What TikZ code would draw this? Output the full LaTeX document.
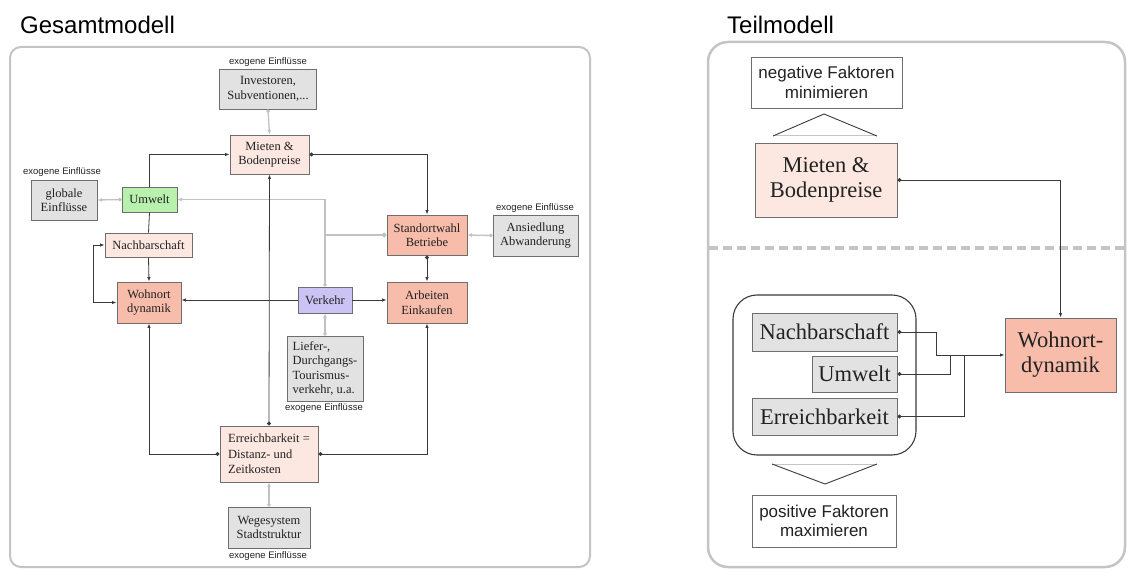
\documentclass[tikz,border=0pt]{standalone}
\usepackage{fontspec}
\setmainfont{Liberation Serif}
\newfontfamily\arialf{Liberation Sans}
\usetikzlibrary{arrows.meta}
\definecolor{framegray}{HTML}{C4C4C4}
\definecolor{boxline}{HTML}{6E6E6E}
\definecolor{lineblk}{HTML}{3A3A3A}
\definecolor{conngray}{HTML}{C2C2C2}
\definecolor{lightpink}{HTML}{FDE8E1}
\definecolor{salmon}{HTML}{F8BCAB}
\definecolor{greenbox}{HTML}{B8F0AD}
\definecolor{purplebox}{HTML}{CBC3F3}
\definecolor{exogray}{HTML}{E2E2E2}
\definecolor{txt}{HTML}{222222}
\tikzset{
  box/.style={draw=boxline, line width=0.9pt, inner sep=0pt, align=center, text=txt,
    font=\fontsize{12.5}{14.5}\selectfont},
  lp/.style={box, fill=lightpink},
  sal/.style={box, fill=salmon},
  exo/.style={box, fill=exogray},
  exolbl/.style={font=\arialf\fontsize{9.5}{11}\selectfont, inner sep=0pt, text=txt},
  blk/.style={draw=lineblk, line width=0.8pt},
  arr/.style={-{Latex[length=4.5pt,width=3.5pt]}},
  darr/.style={{Circle[length=4pt]}-{Latex[length=4.5pt,width=3.5pt]}},
  dotstart/.style={{Circle[length=4pt]}-},
  gry/.style={draw=conngray, line width=1.3pt},
  garr/.style={{Circle[length=3.5pt]}-{Latex[length=4.5pt,width=4pt]}},
  bigbox/.style={draw=boxline, line width=0.9pt, inner sep=0pt, align=center, text=txt,
    font=\fontsize{22.5}{25}\selectfont},
  sansbox/.style={draw=boxline, line width=0.9pt, fill=white, inner sep=0pt, align=center, text=txt,
    font=\arialf\fontsize{17}{19.5}\selectfont},
  title/.style={font=\arialf\fontsize{24}{27}\selectfont, inner sep=0pt, anchor=base west, text=black}
}
\begin{document}
\begin{tikzpicture}[x=1pt,y=-1pt]
\useasboundingbox (0,0) rectangle (1128,569);
% titles
\node[title] (t1) at (20,34) {Gesamtmodell};
\node[title] (t2) at (727,34) {Teilmodell};
% frames
\draw[framegray, line width=2pt, rounded corners=11pt] (10,47) rectangle (590,567);
\draw[framegray, line width=2.5pt, rounded corners=20pt] (708,42) rectangle (1125,567);

% ---------- Gesamtmodell ----------
\node[exolbl] (e1) at (268,62) {exogene Einflüsse};
\node[exo, minimum width=97pt, minimum height=40pt] (inv) at (268,89) {Investoren,\\Subventionen,...};
\node[lp, minimum width=79pt, minimum height=39pt] (mieten) at (269.5,154.5) {Mieten \&\\Bodenpreise};
\node[exolbl] (e2) at (62,172) {exogene Einflüsse};
\node[exo, minimum width=66pt, minimum height=40pt] (glob) at (64,200) {globale\\Einflüsse};
\node[box, fill=greenbox, minimum width=55pt, minimum height=25pt] (umwelt) at (149.5,199.5) {Umwelt};
\node[sal, minimum width=80pt, minimum height=40pt] (std) at (427,235) {Standortwahl\\Betriebe};
\node[exolbl] (e3) at (535,208) {exogene Einflüsse};
\node[exo, minimum width=85pt, minimum height=41pt] (ans) at (535.5,235.5) {Ansiedlung\\Abwanderung};
\node[lp, minimum width=87pt, minimum height=24pt] (nachb) at (148.5,245) {Nachbarschaft};
\node[sal, minimum width=64pt, minimum height=41pt] (wohn) at (149,302.5) {Wohnort\\dynamik};
\node[box, fill=purplebox, minimum width=54pt, minimum height=26pt] (verk) at (325,300) {Verkehr};
\node[sal, minimum width=80pt, minimum height=41pt] (arb) at (427,302.5) {Arbeiten\\Einkaufen};
\node[exo, minimum width=76pt, minimum height=65pt, align=left] (lief) at (325,368.5) {Liefer-,\\Durchgangs-\\Tourismus-\\verkehr, u.a.};
\node[exolbl] (e4) at (324,408) {exogene Einflüsse};
\node[lp, minimum width=98pt, minimum height=56pt, align=left,
  font=\fontsize{12.5}{15.5}\selectfont] (err) at (269,454) {Erreichbarkeit =\\Distanz- und\\Zeitkosten};
\node[exo, minimum width=82pt, minimum height=41pt] (weg) at (269,527.5) {Wegesystem\\Stadtstruktur};
\node[exolbl] (e5) at (268,556) {exogene Einflüsse};

% gray (exogenous) connectors
\draw[gry, garr] (inv.south) -- (mieten.north);
\draw[gry, garr] (umwelt.west) -- (glob.east);
\coordinate (br) at (verk.north |- std.west);
\draw[gry, garr] (verk.north) |- (umwelt.east);
\draw[gry, -{Circle[length=5pt]}] (br) -- (std.west);
\draw[gry, garr] (ans.west) -- (std.east);
\draw[gry, garr] (lief.north) -- (verk.south);
\draw[gry, garr] (weg.north) -- (err.south);

% black connectors
\draw[blk, arr] (umwelt.north) |- (mieten.west);
\draw[blk, darr] (mieten.east) -| (std.north);
\draw[blk, darr] (err.north) -- (mieten.south);
\draw[blk, darr] (std.south) -- (arb.north);
\draw[blk] (umwelt.south) -- (nachb.north);
\draw[blk, arr] (nachb.south) -- (wohn.north);
\draw[blk, {Latex[length=4.5pt,width=3.5pt]}-{Latex[length=4.5pt,width=3.5pt]}] (nachb.west) -| ([xshift=-23pt]wohn.west) -- (wohn.west);
\draw[blk, arr] (verk.west) -- (verk.west -| wohn.east);
\draw[blk, arr] (verk.east) -- (verk.east -| arb.west);
\draw[blk, darr] (err.west) -| (wohn.south);
\draw[blk, darr] (err.east) -| (arb.south);

% ---------- Teilmodell ----------
\node[sansbox, minimum width=151pt, minimum height=51pt] (neg) at (826.5,82.5) {negative Faktoren\\minimieren};
\draw[framegray, line width=1pt] (773,136) -- (877,136);
\draw[lineblk, line width=0.9pt] (773,136) -- (824,114) -- (877,136);
\node[bigbox, fill=lightpink, minimum width=142pt, minimum height=74pt] (mieten2) at (826,180) {Mieten \&\\Bodenpreise};
\draw[framegray, line width=4pt, dash pattern=on 9pt off 5pt] (709,248) -- (1124,248);
\draw[lineblk, line width=1.1pt, rounded corners=24pt] (733,295) rectangle (916,455);
\node[bigbox, fill=exogray, minimum width=145pt, minimum height=38pt] (nb2) at (824.5,332) {Nachbarschaft};
\node[bigbox, fill=exogray, minimum width=85pt, minimum height=36pt] (um2) at (854.5,374) {Umwelt};
\node[bigbox, fill=exogray, minimum width=145pt, minimum height=37pt] (er2) at (824.5,416.5) {Erreichbarkeit};
\node[bigbox, fill=salmon, minimum width=111pt, minimum height=74pt] (wohn2) at (1060.5,355) {Wohnort-\\dynamik};
\draw[blk, darr] (mieten2.east) -| (wohn2.north);
\coordinate (j1) at (936,355);
\coordinate (j2) at (950,355);
\coordinate (j3) at (964,355);
\draw[blk, dotstart] (nb2.east) -| (j1);
\draw[blk, arr] (j1) -- (wohn2.west);
\draw[blk, dotstart] (um2.east) -| (j2);
\draw[blk, dotstart] (er2.east) -| (j3);
\draw[framegray, line width=1pt] (772,464) -- (877,464);
\draw[lineblk, line width=0.9pt] (772,464) -- (825,484) -- (877,464);
\node[sansbox, minimum width=144pt, minimum height=52pt] (pos) at (824,521) {positive Faktoren\\maximieren};
\end{tikzpicture}
\end{document}
